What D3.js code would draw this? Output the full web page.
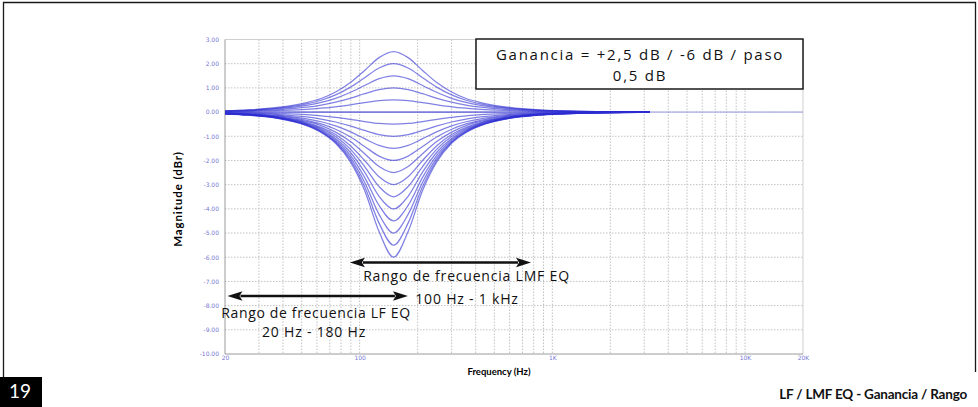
<!DOCTYPE html>
<html><head><meta charset="utf-8">
<script src="https://cdn.jsdelivr.net/npm/d3@7"></script>
<style>html,body{margin:0;padding:0;background:#fff;} svg{display:block}</style>
</head><body>
<svg id="c" width="978" height="407"></svg>
<script>
// ---------- DATA ----------
const freqsHz = [20, 26.5, 37.5, 53, 63.1, 75, 89.2, 106.1, 126.1, 150, 178.4, 212.1, 252.3, 300, 356.7, 424.3, 600, 848.5, 1125, 1697, 2400, 3200];
const gainSteps = [2.5, 2, 1.5, 1, 0.5, 0, -0.5, -1, -1.5, -2, -2.5, -3, -3.5, -4, -4.5, -5, -5.5, -6];

const respP25 = [0.05, 0.09, 0.19, 0.39, 0.56, 0.83, 1.21, 1.72, 2.25, 2.5, 2.25, 1.72, 1.21, 0.83, 0.56, 0.39, 0.19, 0.09, 0.05, 0.02, 0.01, 0];
const respP20 = [0.05, 0.08, 0.16, 0.34, 0.49, 0.71, 1.02, 1.42, 1.82, 2.0, 1.82, 1.42, 1.02, 0.71, 0.49, 0.34, 0.16, 0.08, 0.05, 0.02, 0.01, 0];
const respP15 = [0.04, 0.07, 0.14, 0.28, 0.40, 0.57, 0.81, 1.10, 1.38, 1.5, 1.38, 1.10, 0.81, 0.57, 0.40, 0.28, 0.14, 0.07, 0.04, 0.02, 0.01, 0];
const respP10 = [0.03, 0.05, 0.10, 0.20, 0.29, 0.41, 0.57, 0.76, 0.93, 1.0, 0.93, 0.76, 0.57, 0.41, 0.29, 0.20, 0.10, 0.05, 0.03, 0.01, 0.01, 0];
const respP05 = [0.02, 0.03, 0.06, 0.11, 0.16, 0.22, 0.30, 0.39, 0.47, 0.5, 0.47, 0.39, 0.30, 0.22, 0.16, 0.11, 0.06, 0.03, 0.02, 0.01, 0, 0];
const respZ00 = [0, 0, 0, 0, 0, 0, 0, 0, 0, 0, 0, 0, 0, 0, 0, 0, 0, 0, 0, 0, 0, 0];
const respM05 = [-0.02, -0.03, -0.06, -0.11, -0.16, -0.22, -0.30, -0.39, -0.47, -0.5, -0.47, -0.39, -0.30, -0.22, -0.16, -0.11, -0.06, -0.03, -0.02, -0.01, 0, 0];
const respM10 = [-0.03, -0.05, -0.10, -0.20, -0.29, -0.41, -0.57, -0.76, -0.93, -1.0, -0.93, -0.76, -0.57, -0.41, -0.29, -0.20, -0.10, -0.05, -0.03, -0.01, -0.01, 0];
const respM15 = [-0.04, -0.07, -0.14, -0.28, -0.40, -0.57, -0.81, -1.10, -1.38, -1.5, -1.38, -1.10, -0.81, -0.57, -0.40, -0.28, -0.14, -0.07, -0.04, -0.02, -0.01, 0];
const respM20 = [-0.05, -0.08, -0.16, -0.34, -0.49, -0.71, -1.02, -1.42, -1.82, -2.0, -1.82, -1.42, -1.02, -0.71, -0.49, -0.34, -0.16, -0.08, -0.05, -0.02, -0.01, 0];
const respM25 = [-0.05, -0.09, -0.19, -0.39, -0.56, -0.83, -1.21, -1.72, -2.25, -2.5, -2.25, -1.72, -1.21, -0.83, -0.56, -0.39, -0.19, -0.09, -0.05, -0.02, -0.01, 0];
const respM30 = [-0.06, -0.10, -0.20, -0.43, -0.63, -0.93, -1.38, -2.00, -2.67, -3.0, -2.67, -2.00, -1.38, -0.93, -0.63, -0.43, -0.20, -0.10, -0.06, -0.02, -0.01, 0];
const respM35 = [-0.06, -0.11, -0.22, -0.46, -0.68, -1.01, -1.52, -2.25, -3.08, -3.5, -3.08, -2.25, -1.52, -1.01, -0.68, -0.46, -0.22, -0.11, -0.06, -0.03, -0.01, 0];
const respM40 = [-0.06, -0.11, -0.23, -0.49, -0.72, -1.09, -1.65, -2.48, -3.48, -4.0, -3.48, -2.48, -1.65, -1.09, -0.72, -0.49, -0.23, -0.11, -0.06, -0.03, -0.01, 0];
const respM45 = [-0.07, -0.12, -0.24, -0.51, -0.76, -1.15, -1.77, -2.70, -3.86, -4.5, -3.86, -2.70, -1.77, -1.15, -0.76, -0.51, -0.24, -0.12, -0.07, -0.03, -0.01, 0];
const respM50 = [-0.07, -0.12, -0.25, -0.53, -0.79, -1.21, -1.87, -2.90, -4.23, -5.0, -4.23, -2.90, -1.87, -1.21, -0.79, -0.53, -0.25, -0.12, -0.07, -0.03, -0.01, 0];
const respM55 = [-0.07, -0.12, -0.25, -0.55, -0.82, -1.25, -1.96, -3.08, -4.59, -5.5, -4.59, -3.08, -1.96, -1.25, -0.82, -0.55, -0.25, -0.12, -0.07, -0.03, -0.02, 0];
const respM60 = [-0.07, -0.13, -0.26, -0.56, -0.84, -1.29, -2.04, -3.24, -4.94, -6.0, -4.94, -3.24, -2.04, -1.29, -0.84, -0.56, -0.26, -0.13, -0.07, -0.03, -0.02, 0];

const responses = [respP25, respP20, respP15, respP10, respP05, respZ00, respM05, respM10, respM15, respM20, respM25, respM30, respM35, respM40, respM45, respM50, respM55, respM60];

const baselineSpanHz = [20, 20000];
const yTickValues = [3, 2, 1, 0, -1, -2, -3, -4, -5, -6, -7, -8, -9, -10];
const yTickLabels = ["3.00", "2.00", "1.00", "0.00", "-1.00", "-2.00", "-3.00", "-4.00", "-5.00", "-6.00", "-7.00", "-8.00", "-9.00", "-10.00"];
const xTickValues = [20, 100, 1000, 10000, 20000];
const xTickLabels = ["20", "100", "1K", "10K", "20K"];

const boxLines = ["Ganancia = +2,5 dB / -6 dB / paso", "0,5 dB"];
const rangeArrows = [
  { name: "LMF", fromHz: 89, toHz: 775, atDb: -6.22, title: "Rango de frecuencia LMF EQ", span: "100 Hz - 1 kHz" },
  { name: "LF", fromHz: 20.6, toHz: 178, atDb: -7.6, title: "Rango de frecuencia LF EQ", span: "20 Hz - 180 Hz" }
];

// ---------- DRAW ----------
const svg = d3.select("#c");
const plot = { left: 225, right: 803, top: 39.5, bottom: 354 };
const x = d3.scaleLog().domain([20, 20000]).range([plot.left, plot.right]);
const y = d3.scaleLinear().domain([-10, 3]).range([plot.bottom, plot.top]);

// page frame
svg.append("path")
  .attr("d", "M3.5,378 L3.5,2.5 L975.5,2.5 L975.5,372")
  .attr("fill", "none").attr("stroke", "#1a1a1a").attr("stroke-width", 1.3);

// grid
const gridFreqs = [];
[10, 100, 1000, 10000].forEach(d => { for (let m = 1; m <= 9; m++) { const f = d * m; if (f > 20 && f < 20000) gridFreqs.push(f); } });
const grid = svg.append("g");
grid.selectAll("line.gx").data(gridFreqs).join("line")
  .attr("x1", d => x(d)).attr("x2", d => x(d)).attr("y1", plot.top).attr("y2", plot.bottom)
  .attr("stroke", "#c2c2c2").attr("stroke-width", 1).attr("stroke-dasharray", "1.5,1.5");
grid.selectAll("line.gy").data(d3.range(-9, 3)).join("line")
  .attr("x1", plot.left).attr("x2", plot.right).attr("y1", d => y(d)).attr("y2", d => y(d))
  .attr("stroke", "#c2c2c2").attr("stroke-width", 1).attr("stroke-dasharray", "1.5,1.5");

// plot frame
svg.append("line").attr("x1", plot.left).attr("x2", plot.right).attr("y1", plot.top).attr("y2", plot.top).attr("stroke", "#cfcfcf");
svg.append("line").attr("x1", plot.right).attr("x2", plot.right).attr("y1", plot.top).attr("y2", plot.bottom).attr("stroke", "#cfcfcf");
svg.append("line").attr("x1", plot.left).attr("x2", plot.left).attr("y1", plot.top).attr("y2", plot.bottom).attr("stroke", "#9a9a9a");
svg.append("line").attr("x1", plot.left).attr("x2", plot.right).attr("y1", plot.bottom).attr("y2", plot.bottom).attr("stroke", "#9a9a9a");

// baseline across the whole span
svg.append("path")
  .attr("d", d3.line().x(d => x(d)).y(() => y(0))(baselineSpanHz))
  .attr("fill", "none").attr("stroke", "#9a9ae6").attr("stroke-width", 1);

// curves
const line = d3.line().x((d, i) => x(freqsHz[i])).y(d => y(d)).curve(d3.curveMonotoneX);
svg.append("g").selectAll("path").data(responses).join("path")
  .attr("d", d => line(d))
  .attr("fill", "none").attr("stroke", "rgb(45,45,210)").attr("stroke-opacity", 0.6).attr("stroke-width", 1.25);

// axes
const yAxis = svg.append("g").attr("transform", `translate(${plot.left},0)`)
  .call(d3.axisLeft(y).tickValues(yTickValues).tickFormat((d, i) => yTickLabels[i]).tickSize(0).tickPadding(6));
yAxis.select(".domain").remove();
yAxis.selectAll("text").attr("font-family", "DejaVu Sans").attr("font-size", 6).attr("fill", "#7878d2");

const xAxis = svg.append("g").attr("transform", `translate(0,${plot.bottom})`)
  .call(d3.axisBottom(x).tickValues(xTickValues).tickFormat((d, i) => xTickLabels[i]).tickSize(0).tickPadding(2));
xAxis.select(".domain").remove();
xAxis.selectAll("text").attr("font-family", "DejaVu Sans").attr("font-size", 6).attr("fill", "#7878d2");

// axis titles
svg.append("text").attr("transform", "translate(182,199) rotate(-90)")
  .attr("text-anchor", "middle").attr("font-family", "Lato").attr("font-weight", 700).attr("font-size", 11.5)
  .attr("letter-spacing", 0.9)
  .text("Magnitude (dBr)");
svg.append("text").attr("x", 499).attr("y", 375)
  .attr("text-anchor", "middle").attr("font-family", "Lato").attr("font-weight", 700).attr("font-size", 9.5)
  .text("Frequency (Hz)");

// annotation box
svg.append("rect").attr("x", 476).attr("y", 39).attr("width", 327).attr("height", 50)
  .attr("fill", "#fff").attr("stroke", "#1a1a1a").attr("stroke-width", 1.5);
svg.append("g").selectAll("text").data(boxLines).join("text")
  .attr("x", 640).attr("y", (d, i) => 60 + i * 20.5)
  .attr("text-anchor", "middle").attr("font-family", "Open Sans").attr("font-weight", 500).attr("font-size", 15).attr("letter-spacing", 1.75)
  .attr("fill", "#111").text(d => d);

// range arrows
function arrow(g, x1, x2, yy) {
  const head = 15, hw = 4.8;
  g.append("line").attr("x1", x1 + head - 2).attr("x2", x2 - head + 2).attr("y1", yy).attr("y2", yy)
    .attr("stroke", "#111").attr("stroke-width", 2.4);
  g.append("path").attr("d", `M${x1},${yy} L${x1 + head},${yy - hw} L${x1 + head - 3},${yy} L${x1 + head},${yy + hw} Z`).attr("fill", "#111");
  g.append("path").attr("d", `M${x2},${yy} L${x2 - head},${yy - hw} L${x2 - head + 3},${yy} L${x2 - head},${yy + hw} Z`).attr("fill", "#111");
}
const ann = svg.append("g");
rangeArrows.forEach(r => {
  const x1 = x(r.fromHz), x2 = x(r.toHz), yy = y(r.atDb);
  arrow(ann, x1, x2, yy);
});
const lmf = rangeArrows[0], lf = rangeArrows[1];
const annText = (tx, ty, s, ls) => ann.append("text").attr("x", tx).attr("y", ty).attr("text-anchor", "middle")
  .attr("font-family", "Open Sans").attr("font-weight", 500).attr("font-size", 14).attr("letter-spacing", ls).attr("fill", "#111").text(s);
annText(466.5, y(lmf.atDb) + 18.5, lmf.title, 0.8);
annText(467, y(lmf.atDb) + 41, lmf.span, 0.8);
annText(316, y(lf.atDb) + 22, lf.title, 0.65);
annText(314, y(lf.atDb) + 41, lf.span, 0.8);

// page number box
svg.append("rect").attr("x", 0).attr("y", 377).attr("width", 42).attr("height", 30).attr("fill", "#000");
svg.append("text").attr("x", 20).attr("y", 398).attr("text-anchor", "middle")
  .attr("font-family", "Lato").attr("font-size", 19).attr("fill", "#fff").text("19");

// footer title
svg.append("text").attr("x", 967).attr("y", 399).attr("text-anchor", "end")
  .attr("font-family", "Lato").attr("font-weight", 700).attr("font-size", 13.5).attr("letter-spacing", -0.2)
  .attr("fill", "#111").text("LF / LMF EQ - Ganancia / Rango");
</script></body></html>
